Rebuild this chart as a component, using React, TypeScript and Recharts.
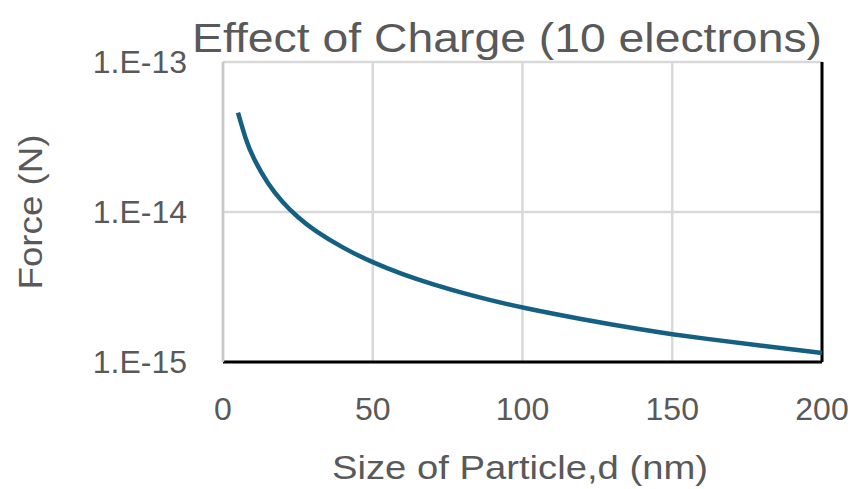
import { LineChart, Line, XAxis, YAxis, CartesianGrid, ReferenceLine } from 'recharts';

// particle size d (nm) and force (N)
const sizes = [5, 7.5, 10, 15, 20, 25, 30, 40, 50, 60, 70, 80, 90, 100, 120, 140, 150, 160, 180, 200];
const forces = [
  4.6e-14, 3.07e-14, 2.3e-14, 1.53e-14, 1.15e-14, 9.2e-15, 7.65e-15, 5.75e-15, 4.6e-15, 3.83e-15,
  3.29e-15, 2.88e-15, 2.56e-15, 2.3e-15, 1.92e-15, 1.64e-15, 1.53e-15, 1.44e-15, 1.28e-15, 1.15e-15,
];
const xTicks = [0, 50, 100, 150, 200];
const yTicks = [1e-15, 1e-14, 1e-13];

const data = sizes.map((d, i) => ({ d, force: forces[i] }));

const GREY = '#595959';
const FONT = '"Liberation Sans", Arial, sans-serif';

const formatExp = (v: number) => `1.E${Math.round(Math.log10(v))}`;

export default function App() {
  return (
    <div style={{ position: 'absolute', left: 0, top: 0, width: 854, height: 489, background: '#fff' }}>
      <LineChart
        width={854}
        height={489}
        data={data}
        margin={{ top: 62, right: 32, bottom: 67, left: 143 }}
      >
        <CartesianGrid stroke="#d9d9d9" strokeWidth={2.5} />
        <XAxis
          dataKey="d"
          type="number"
          domain={[0, 200]}
          ticks={xTicks}
          height={60}
          tickLine={false}
          tickSize={0}
          tickMargin={35}
          axisLine={{ stroke: '#000', strokeWidth: 3 }}
          tick={{ fill: GREY, fontSize: 32, fontFamily: FONT }}
        />
        <YAxis
          type="number"
          scale="log"
          domain={[1e-15, 1e-13]}
          allowDataOverflow
          ticks={yTicks}
          tickFormatter={formatExp}
          width={80}
          tickLine={false}
          tickSize={0}
          tickMargin={36}
          axisLine={{ stroke: '#c8c8c8', strokeWidth: 2.5 }}
          tick={{ fill: GREY, fontSize: 32, fontFamily: FONT }}
        />
        <ReferenceLine x={200} stroke="#000" strokeWidth={3} />
        <Line
          type="basis"
          dataKey="force"
          stroke="#156082"
          strokeWidth={4.5}
          dot={false}
          isAnimationActive={false}
        />
      </LineChart>
      <svg
        width={854}
        height={489}
        style={{ position: 'absolute', left: 0, top: 0, pointerEvents: 'none' }}
      >
        <text
          x={507}
          y={52}
          textAnchor="middle"
          fill={GREY}
          fontSize={41}
          fontFamily={FONT}
          textLength={630}
          lengthAdjust="spacingAndGlyphs"
        >
          Effect of Charge (10 electrons)
        </text>
        <text
          x={520}
          y={479}
          textAnchor="middle"
          fill={GREY}
          fontSize={33}
          fontFamily={FONT}
          textLength={376}
          lengthAdjust="spacingAndGlyphs"
        >
          Size of Particle,d (nm)
        </text>
        <text
          x={0}
          y={0}
          transform="translate(42 212) rotate(-90)"
          textAnchor="middle"
          fill={GREY}
          fontSize={33}
          fontFamily={FONT}
          textLength={155}
          lengthAdjust="spacingAndGlyphs"
        >
          Force (N)
        </text>
      </svg>
    </div>
  );
}
